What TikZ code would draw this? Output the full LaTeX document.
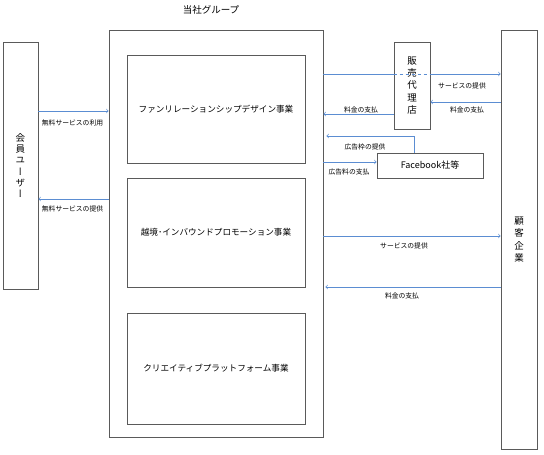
\documentclass[tikz,border=0pt]{standalone}
\usepackage{fontspec}
\setmainfont{Noto Sans CJK JP}
\newfontfamily\jpvert[RawFeature=+vert]{Noto Sans CJK JP}
\usepackage{tikz}
\definecolor{linkblue}{RGB}{91,141,210}
\definecolor{boxgray}{RGB}{90,90,90}

\begin{document}
\begin{tikzpicture}[x=1pt, y=-1pt,
    unitbox/.style={draw=boxgray, line width=0.8pt, fill=white, inner sep=0pt, font={\fontsize{8.6}{10}\selectfont}},
    colbox/.style={unitbox, align=center, font={\jpvert\fontsize{9.5}{12.3}\selectfont}},
    note/.style={font={\fontsize{6.8}{8}\selectfont}, inner sep=0pt},
    link/.style={draw=linkblue, line width=0.7pt}]
            \useasboundingbox (0,0) rectangle (544,455);

            % Nodes
            \node[font={\fontsize{9.5}{11}\selectfont}] (title) at (211,10) {当社グループ};
            \node[unitbox, minimum width=214pt, minimum height=407pt] (grp) at (216,233.5) {};
            \node[unitbox, minimum width=178pt, minimum height=108pt] (fan) at (216,109) {ファンリレーションシップデザイン事業};
            \node[unitbox, minimum width=178pt, minimum height=109pt] (inb) at (216,232.5) {越境･インバウンドプロモーション事業};
            \node[unitbox, minimum width=178pt, minimum height=111pt] (cre) at (216,368.5) {クリエイティブプラットフォーム事業};
            \node[colbox, minimum width=35pt, minimum height=247pt, font={\jpvert\fontsize{9.5}{11.2}\selectfont}] (user) at (20.5,165.5) {会\\員\\ユ\\ー\\ザ\\ー};
            \node[colbox, minimum width=36pt, minimum height=419pt] (cust) at (519,239.5) {顧\\客\\企\\業};
            \node[colbox, minimum width=36pt, minimum height=87pt] (agt) at (412,85.5) {販\\売\\代\\理\\店};
            \node[unitbox, minimum width=106pt, minimum height=25pt, font={\fontsize{9}{11}\selectfont}] (fb) at (430,165.5) {Facebook社等};

            % Edges
            \draw[link,->] (user.east |- 0,111) -- (grp.west |- 0,111);
            \draw[link,->] (grp.west |- 0,199) -- (user.east |- 0,199);
            \draw[link] (grp.east |- 0,74) -- (agt.west |- 0,74);
            \draw[link, dashed] (agt.west |- 0,74) -- (agt.east |- 0,74);
            \draw[link,->] (agt.east |- 0,74) -- (cust.west |- 0,74);
            \draw[link,->] (cust.west |- 0,102) -- (agt.east |- 0,102);
            \draw[link,->] (agt.west |- 0,114) -- (grp.east |- 0,114);
            \draw[link,->] ([xshift=-16pt]fb.north) |- ([xshift=3pt]grp.east |- 0,136);
            \draw[link,->] (grp.east |- 0,162) -- (fb.west |- 0,162);
            \draw[link,->] (grp.east |- 0,236) -- (cust.west |- 0,236);
            \draw[link,->] (cust.west |- 0,287) -- ([xshift=2pt]grp.east |- 0,287);

            % Labels
            \node[note] (l1) at (72.5,123) {無料サービスの利用};
            \node[note] (l2) at (72.5,209) {無料サービスの提供};
            \node[note] (l3) at (462,86) {サービスの提供};
            \node[note] (l4) at (467,110) {料金の支払};
            \node[note] (l5) at (361,110) {料金の支払};
            \node[note] (l6) at (365,147) {広告枠の提供};
            \node[note] (l7) at (349,172) {広告料の支払};
            \node[note] (l8) at (404,246) {サービスの提供};
            \node[note] (l9) at (402,296) {料金の支払};
        \end{tikzpicture}
\end{document}
